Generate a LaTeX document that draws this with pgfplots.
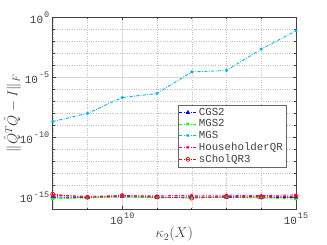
\documentclass[border=0pt]{standalone}
\usepackage{fontspec}
\setmonofont{Liberation Mono}
\usepackage{pgfplots}
\pgfplotsset{compat=1.18}
\definecolor{axgray}{rgb}{0.25,0.25,0.25}
\newcommand{\tl}[1]{\textcolor{axgray}{\ttfamily\fontsize{11}{11}\selectfont 10\hspace{1bp}\raisebox{1.0ex}{\fontsize{8.5}{8.5}\selectfont #1}}}
\begin{document}
\begin{tikzpicture}
\begin{axis}[
  scale only axis, width=243.3bp, height=191.8bp,
  xmode=log, ymode=log,
  xmin=1e8, xmax=1e15, ymin=1e-16, ymax=1e0,
  xtick={1e10,1e15}, xticklabels={\tl{10},\tl{15}},
  ytick={1e-15,1e-10,1e-5,1}, yticklabels={\tl{-15},\tl{-10},\tl{-5},\tl{0}},
  minor xtick={1e8,1e9,1e11,1e12,1e13,1e14},
  minor ytick={1e-16,1e-14,1e-13,1e-12,1e-11,1e-9,1e-8,1e-7,1e-6,1e-4,1e-3,1e-2,1e-1},
  axis line style={axgray, line width=0.5pt},
  tick style={axgray, line width=0.5pt},
  tick align=inside, major tick length=3bp, minor tick length=1.8bp,
  xtick pos=both, ytick pos=both,
  xticklabel pos=bottom, yticklabel pos=left,
  grid=both,
  major grid style={black!15, line width=0.4pt},
  minor grid style={black!25, dotted, line width=0.4pt},
  xlabel={$\kappa_2(X)$}, ylabel={$\|\hat{Q}^T\hat{Q}-I\|_F$},
  label style={font=\fontsize{14}{14}\selectfont, axgray},
  ylabel style={yshift=-8bp},
  xlabel style={yshift=4bp},
  legend style={at={(0.959,0.544)}, anchor=north east, draw=black!60, line width=0.5pt,
    font=\fontsize{10.8}{12.2}\selectfont\ttfamily, text=axgray, inner sep=1pt, row sep=-1.2pt,
    cells={anchor=west}},
  legend image code/.code={
    \draw[mark repeat=2,mark phase=2] plot coordinates {(0cm,0cm) (0.3cm,0cm) (0.6cm,0cm)};},
  every axis plot/.append style={line width=0.9pt, dash pattern=on 3pt off 1.5pt on 0.8pt off 1.5pt, mark size=2pt, mark options={solid, line width=0.7pt}},
]
\addplot[blue, mark=triangle] coordinates {(1e8,1.1e-15) (1e9,0.95e-15) (1e10,1.2e-15) (1e11,0.95e-15) (1e12,1.1e-15) (1e13,1.0e-15) (1e14,0.9e-15) (1e15,1.0e-15)};
\addlegendentry{CGS2}
\addplot[green, mark=asterisk, mark size=1.5pt] coordinates {(1e8,0.75e-15) (1e9,0.9e-15) (1e10,1.1e-15) (1e11,0.9e-15) (1e12,1.0e-15) (1e13,1.1e-15) (1e14,0.95e-15) (1e15,0.7e-15)};
\addlegendentry{MGS2}
\addplot[cyan, mark=asterisk, mark size=1.5pt] coordinates {(1e8,2.1e-9) (1e9,1.0e-8) (1e10,2.1e-7) (1e11,4.6e-7) (1e12,2.9e-5) (1e13,3.8e-5) (1e14,2.3e-3) (1e15,7.8e-2)};
\addlegendentry{MGS}
\addplot[magenta, mark=asterisk, mark size=1.5pt] coordinates {(1e8,1.5e-15) (1e9,1.2e-15) (1e10,1.4e-15) (1e11,1.3e-15) (1e12,1.5e-15) (1e13,1.5e-15) (1e14,1.4e-15) (1e15,1.6e-15)};
\addlegendentry{HouseholderQR}
\addplot[red, mark=o, mark size=2pt] coordinates {(1e8,1.8e-15) (1e9,1.0e-15) (1e10,1.4e-15) (1e11,1.1e-15) (1e12,0.85e-15) (1e13,1.2e-15) (1e14,1.15e-15) (1e15,1.2e-15)};
\addlegendentry{sCholQR3}
\end{axis}
\pgfresetboundingbox
\path[use as bounding box] (-52.7bp,-35.7bp) rectangle (274.3bp,209.3bp);
\end{tikzpicture}
\end{document}
